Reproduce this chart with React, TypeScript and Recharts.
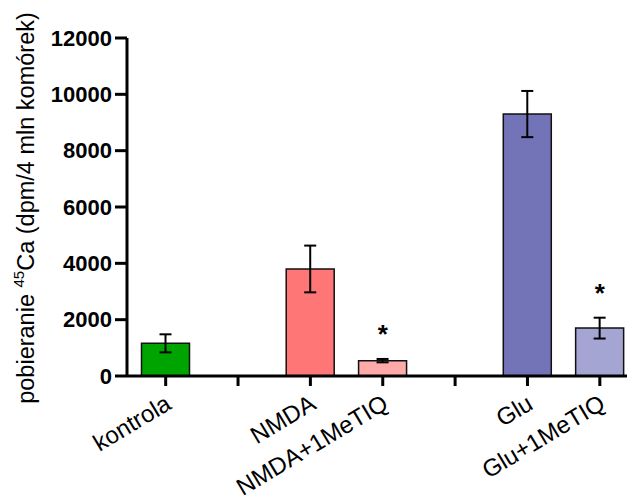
import { ComposedChart, Bar, Cell, ErrorBar, Scatter, XAxis, YAxis } from 'recharts';

const groups = ['kontrola', '_gap1', 'NMDA', 'NMDA+1MeTIQ', '_gap2', 'Glu', 'Glu+1MeTIQ'];
const means = [1160, null, 3800, 545, null, 9300, 1700];
const sem = [320, null, 830, 60, null, 820, 370];
const significant = [false, false, false, true, false, false, true];
const barColors = ['#00a400', '#ffffff', '#ff7676', '#ffaaaa', '#ffffff', '#7373b8', '#a5a5d3'];
const yTicks = [0, 2000, 4000, 6000, 8000, 10000, 12000];

// asterisk sits this far (in data units) above the top of the error bar
const STAR_GAP = 1100;

const font = '"Liberation Sans", Arial, sans-serif';

const rows = groups.map((g, i) => ({
  group: g,
  mean: means[i],
  err: sem[i],
  star: significant[i] && means[i] != null ? (means[i] as number) + (sem[i] as number) + STAR_GAP : null,
}));

const XTick = (props: any) => {
  const { x, y, payload } = props;
  const label = String(payload.value).startsWith('_') ? '' : payload.value;
  const tx = x + 7;
  const ty = y + 20;
  return (
    <text
      x={tx}
      y={ty}
      transform={`rotate(-31 ${tx} ${ty})`}
      textAnchor="end"
      fontSize={24}
      fontFamily={font}
      fill="#000"
    >
      {label}
    </text>
  );
};

const Star = (props: any) => {
  const { cx, cy, payload } = props;
  if (payload?.star == null || !Number.isFinite(cy)) return null;
  return (
    <text x={cx} y={cy + 15} textAnchor="middle" fontSize={26} fontWeight="bold" fontFamily={font} fill="#000">
      *
    </text>
  );
};

const YTitle = () => (
  <text
    x={34}
    y={208}
    transform="rotate(-90 34 208)"
    textAnchor="middle"
    fontSize={23.5}
    fontFamily={font}
    fill="#000"
  >
    pobieranie{' '}
    <tspan fontSize={15} dy={-10}>45</tspan>
    <tspan dy={10}>Ca (dpm/4 mln komórek)</tspan>
  </text>
);

export default function App() {
  return (
    <div style={{ position: 'absolute', left: 0, top: 0, width: 627, height: 501, overflow: 'hidden', background: '#fff' }}>
      <ComposedChart
        width={636}
        height={501}
        data={rows}
        margin={{ top: 38, right: 0, bottom: 0, left: 0 }}
      >
        <XAxis
          dataKey="group"
          height={125}
          padding={{ left: 2.5, right: 0 }}
          axisLine={{ stroke: '#000', strokeWidth: 3 }}
          tickLine={{ stroke: '#000', strokeWidth: 3 }}
          tickSize={10}
          tick={<XTick />}
          interval={0}
        />
        <YAxis
          width={127}
          domain={[0, 12000]}
          ticks={yTicks}
          axisLine={{ stroke: '#000', strokeWidth: 3 }}
          tickLine={{ stroke: '#000', strokeWidth: 3 }}
          tickSize={12}
          tickMargin={3}
          tick={{ fontSize: 22, fontWeight: 'bold', fill: '#000', fontFamily: font }}
          label={{ content: <YTitle /> }}
        />
        <Bar dataKey="mean" barSize={48} stroke="#111" strokeWidth={1.5} isAnimationActive={false}>
          {rows.map((r, i) => (
            <Cell key={r.group} fill={barColors[i]} />
          ))}
          <ErrorBar dataKey="err" width={6} stroke="#000" strokeWidth={2} isAnimationActive={false} />
        </Bar>
        <Scatter dataKey="star" shape={<Star />} isAnimationActive={false} />
      </ComposedChart>
    </div>
  );
}
